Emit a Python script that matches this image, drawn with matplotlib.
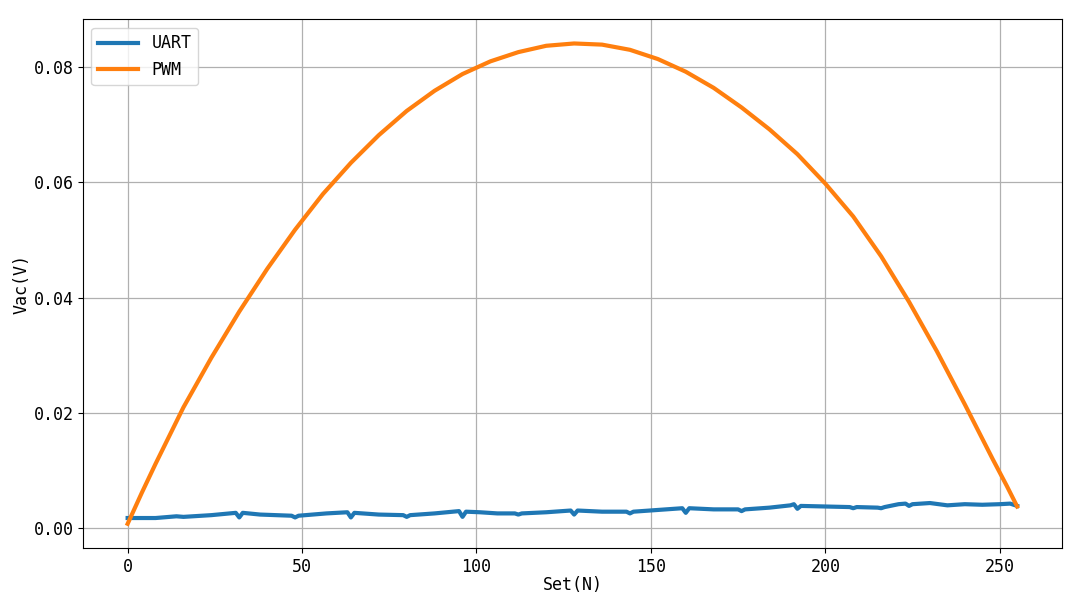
import matplotlib
matplotlib.use("Agg")
import matplotlib.pyplot as plt

# UART readings
uart_x = [0, 8, 14, 16, 24, 31, 32, 33, 38, 47, 48, 49, 57, 63, 64, 65, 72,
          79, 80, 81, 88, 95, 96, 97, 101, 106, 111, 112, 113, 120, 127, 128,
          129, 136, 143, 144, 145, 152, 159, 160, 161, 168, 175, 176, 177,
          184, 190, 191, 192, 193, 200, 207, 208, 209, 215, 216, 217, 221,
          223, 224, 225, 230, 235, 240, 245, 250, 253, 255]
uart_y = [0.0018, 0.0018, 0.0021, 0.0020, 0.0023, 0.0027, 0.0019, 0.0027,
          0.0024, 0.0022, 0.0019, 0.0022, 0.0026, 0.0028, 0.0019, 0.0027,
          0.0024, 0.0023, 0.0020, 0.0023, 0.0026, 0.0030, 0.0020, 0.0029,
          0.0028, 0.0026, 0.0026, 0.0024, 0.0026, 0.0028, 0.0031, 0.0024,
          0.0031, 0.0029, 0.0029, 0.0026, 0.0029, 0.0032, 0.0035, 0.0027,
          0.0035, 0.0033, 0.0033, 0.0030, 0.0033, 0.0036, 0.0040, 0.0042,
          0.0034, 0.0039, 0.0038, 0.0037, 0.0035, 0.0037, 0.0036, 0.0035,
          0.0037, 0.0042, 0.0043, 0.0039, 0.0042, 0.0044, 0.0040, 0.0042,
          0.0041, 0.0042, 0.0043, 0.0039]

# PWM readings
pwm_x = [0, 4, 8, 16, 24, 32, 40, 48, 56, 64, 72, 80, 88, 96, 104, 112,
         120, 128, 136, 144, 152, 160, 168, 176, 184, 192, 200, 208, 216,
         224, 232, 240, 248, 252, 255]
pwm_y = [0.0008, 0.0061, 0.0112, 0.0210, 0.0296, 0.0376, 0.0450, 0.0518,
         0.0580, 0.0634, 0.0682, 0.0724, 0.0759, 0.0788, 0.0810, 0.0826,
         0.0837, 0.0841, 0.0839, 0.0830, 0.0814, 0.0792, 0.0764, 0.0730,
         0.0692, 0.0649, 0.0598, 0.0541, 0.0472, 0.0393, 0.0307, 0.0215,
         0.0120, 0.0074, 0.0038]

plt.rcParams['font.family'] = ['DejaVu Sans Mono']
plt.rcParams['font.size'] = 12

fig = plt.figure(figsize=(10.8, 6.08), dpi=100)
ax = fig.add_axes([0.077, 0.099, 0.906, 0.869])

ax.plot(uart_x, uart_y, color='#1f77b4', linewidth=3, label='UART')
ax.plot(pwm_x, pwm_y, color='#ff7f0e', linewidth=3, label='PWM')

ax.set_xlabel('Set(N)', fontsize=12, labelpad=0)
ax.set_ylabel('Vac(V)', fontsize=12, labelpad=2)
ax.set_yticks([0.0, 0.02, 0.04, 0.06, 0.08])
ax.yaxis.set_major_formatter(plt.FormatStrFormatter('%.2f'))
ax.tick_params(labelsize=12)
ax.grid(True, color='#b0b0b0', linewidth=0.9)
ax.legend(loc='upper left', fontsize=12, handlelength=2.4)

fig.savefig('out.png', dpi=100)
